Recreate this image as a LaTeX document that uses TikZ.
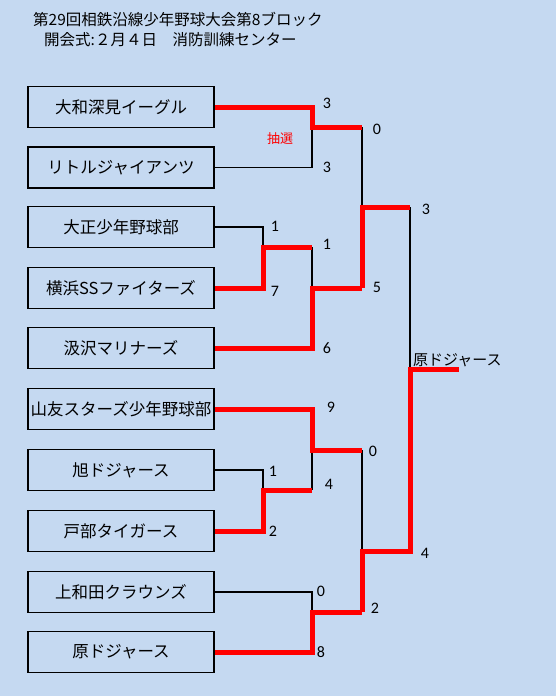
\documentclass[tikz,border=0pt]{standalone}
\usepackage{fontspec}
\usepackage{tikz}
\usepackage{xcolor}
\newfontfamily\jpfont{Noto Sans CJK JP}
\newfontfamily\numfont{Carlito}
\definecolor{sheetblue}{HTML}{C5D9F1}
\definecolor{winred}{HTML}{FF0000}

\begin{document}
\begin{tikzpicture}[
    x=1pt, y=-1pt,
    team/.style={rectangle, draw=black, line width=1.6pt, minimum width=186pt, minimum height=41pt, inner sep=0pt, font=\jpfont\fontsize{16.5}{18}\selectfont},
    score/.style={inner sep=0pt, font=\numfont\fontsize{16}{16}\selectfont},
    heading/.style={anchor=west, inner sep=0pt, font=\jpfont\fontsize{15.5}{17}\selectfont},
    win/.style={draw=winred, line width=5pt},
    lose/.style={draw=black, line width=1.2pt}
  ]
    \fill[sheetblue] (0,0) rectangle (556,696);
    \useasboundingbox (0,0) rectangle (556,696);

    \node[heading] (title) at (33,20) {第29回相鉄沿線少年野球大会第8ブロック};
    \node[heading] (opening) at (44,39.5) {開会式:２月４日　消防訓練センター};

    \node[team] (yamato) at (121,107) {大和深見イーグル};
    \node[team] (little) at (121,167.5) {リトルジャイアンツ};
    \node[team] (taisho) at (121,227) {大正少年野球部};
    \node[team] (yokohama) at (121,288) {横浜SSファイターズ};
    \node[team] (shiozawa) at (121,348) {汲沢マリナーズ};
    \node[team] (sanyu) at (121,409) {山友スターズ少年野球部};
    \node[team] (asahi) at (121,470) {旭ドジャース};
    \node[team] (tobe) at (121,531) {戸部タイガース};
    \node[team] (kamiwada) at (121,592) {上和田クラウンズ};
    \node[team] (hara) at (121,652) {原ドジャース};

    \coordinate (m1) at (312,127);
    \coordinate (m2) at (263,247);
    \coordinate (m3) at (312,288);
    \coordinate (m5) at (312,450);
    \coordinate (m6) at (263,490);
    \coordinate (m7) at (312,612);
    \coordinate (sf1) at (362,207);
    \coordinate (sf2) at (362,551);
    \coordinate (fin) at (410,369);
    \coordinate (champ) at (459,369);

    % losing sides
    \draw[lose] (little.east) -| (m1);
    \draw[lose] (taisho.east) -| (m2);
    \draw[lose] (m2 -| m3) -- (m3);
    \draw[lose] (m1 -| sf1) -- (sf1);
    \draw[lose] (asahi.east) -| (m6);
    \draw[lose] (m6 -| m5) -- (m5);
    \draw[lose] (kamiwada.east) -| (m7);
    \draw[lose] (m5 -| sf2) -- (sf2);
    \draw[lose] (sf1 -| fin) -- (fin);

    % winning sides
    \draw[win] (yamato.east) -| (m1) -- (m1 -| sf1);
    \draw[win] (yokohama.east) -| (m2) -- (m2 -| m3);
    \draw[win] (shiozawa.east) -| (m3) -- (m3 -| sf1);
    \draw[win] (m3 -| sf1) -- (sf1) -- (sf1 -| fin);
    \draw[win] (sanyu.east) -| (m5) -- (m5 -| sf2);
    \draw[win] (tobe.east) -| (m6) -- (m6 -| m5);
    \draw[win] (hara.east) -| (m7) -- (m7 -| sf2);
    \draw[win] (m7 -| sf2) -- (sf2) -- (sf2 -| fin) -- (fin) -- (champ);

    \node[anchor=west, inner sep=0pt, font=\jpfont\fontsize{15}{17}\selectfont] (winner) at (413,360) {原ドジャース};
    \node[inner sep=0pt, text=winred, font=\jpfont\fontsize{13}{15}\selectfont] (lot) at (280,139) {抽選};

    \node[score] (s1a) at (327,103) {3};
    \node[score] (s1b) at (327,167) {3};
    \node[score] (s2a) at (275,226) {1};
    \node[score] (s2b) at (275,291) {7};
    \node[score] (s3a) at (327,244) {1};
    \node[score] (s3b) at (327,348) {6};
    \node[score] (s4a) at (377,129) {0};
    \node[score] (s4b) at (377,287) {5};
    \node[score] (s5a) at (331,407) {9};
    \node[score] (s5b) at (329,484) {4};
    \node[score] (s6a) at (273,471) {1};
    \node[score] (s6b) at (273,531) {2};
    \node[score] (s7a) at (321,591) {0};
    \node[score] (s7b) at (321,652) {8};
    \node[score] (s8a) at (373,451) {0};
    \node[score] (s8b) at (375,608) {2};
    \node[score] (sfa) at (426,209) {3};
    \node[score] (sfb) at (425,553) {4};
  \end{tikzpicture}
\end{document}
